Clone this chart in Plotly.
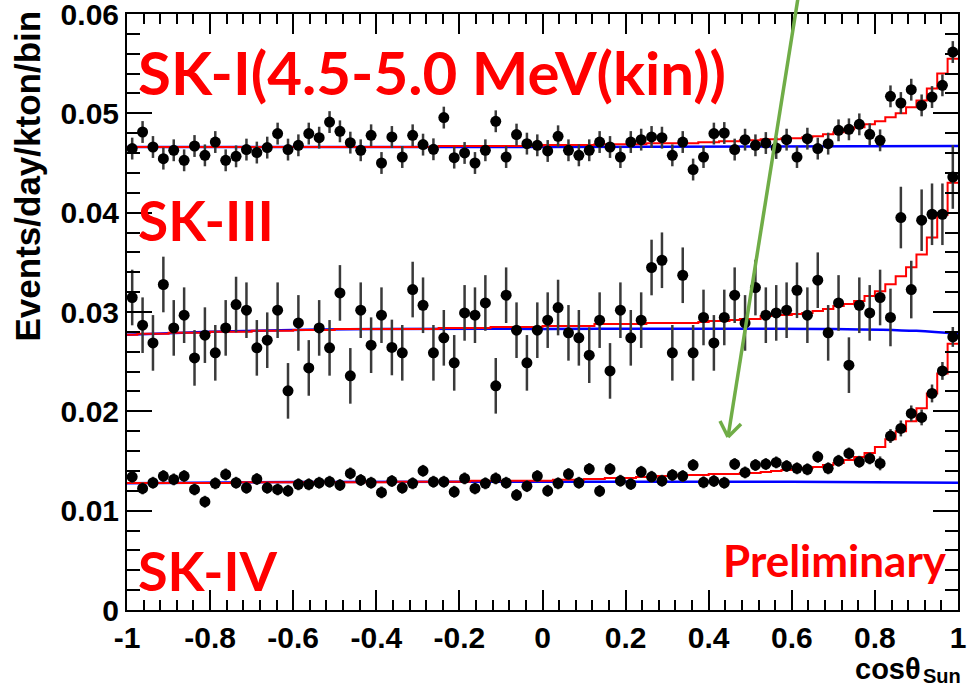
import numpy as np
import plotly.graph_objects as go

# ---------------- data ----------------
bin_edges = np.linspace(-1.0, 1.0, 81)
bin_centers = 0.5 * (bin_edges[:-1] + bin_edges[1:])

sk1_vals = [0.04645, 0.04812, 0.04661, 0.04544, 0.04628, 0.04527, 0.04671, 0.04577, 0.04711, 0.04527,
            0.04567, 0.04635, 0.04605, 0.04655, 0.04796, 0.04635, 0.04678, 0.04796, 0.04755, 0.04912,
            0.04819, 0.04705, 0.04628, 0.04779, 0.04500, 0.04762, 0.04560, 0.04779, 0.04685, 0.04638,
            0.04957, 0.04554, 0.04601, 0.04500, 0.04628, 0.04920, 0.04560, 0.04786, 0.04695, 0.04678,
            0.04621, 0.04769, 0.04628, 0.04577, 0.04628, 0.04711, 0.04661, 0.04560, 0.04711, 0.04735,
            0.04762, 0.04755, 0.04577, 0.04711, 0.04434, 0.04560, 0.04796, 0.04802, 0.04635, 0.04735,
            0.04678, 0.04701, 0.04651, 0.04735, 0.04560, 0.04745, 0.04645, 0.04695, 0.04829, 0.04839,
            0.04889, 0.04789, 0.04728, 0.05171, 0.05104, 0.05238, 0.05080, 0.05164, 0.05282, 0.05617]
sk1_err = 0.0011
sk1_mc = [0.0466] * 30 + [0.0467] * 10 + [0.0468] * 5 + [0.0469] * 5 + [0.0470] * 5 + \
         [0.0471, 0.0471, 0.0472, 0.0472, 0.0473,
          0.0473, 0.0474, 0.0474, 0.0475, 0.0475, 0.0476, 0.0477, 0.0479, 0.0481, 0.0484,
          0.0486, 0.0489, 0.0492, 0.0496, 0.0500, 0.0506, 0.0513, 0.0525, 0.0540, 0.0555]
sk1_flat_x = [-1.0, 0.0, 1.0]
sk1_flat_y = [0.0466, 0.0466, 0.0467]

sk3_vals = [0.03146, 0.02867, 0.02689, 0.03277, 0.02840, 0.02968, 0.02538, 0.02767, 0.02589, 0.02840,
            0.03075, 0.03018, 0.02639, 0.02716, 0.03018, 0.02206, 0.02890, 0.02437, 0.02840, 0.02639,
            0.03192, 0.02357, 0.03018, 0.02666, 0.02968, 0.02643, 0.02589, 0.03226, 0.03068, 0.02589,
            0.02740, 0.02488, 0.02991, 0.02968, 0.03091, 0.02257, 0.03169, 0.02817, 0.02488, 0.02817,
            0.02918, 0.03045, 0.02790, 0.02740, 0.02565, 0.02918, 0.02407, 0.03018, 0.02740, 0.02918,
            0.03448, 0.03521, 0.02589, 0.03370, 0.02589, 0.02945, 0.02689, 0.02945, 0.03169, 0.02890,
            0.03246, 0.02968, 0.02991, 0.03018, 0.03219, 0.02968, 0.03320, 0.02790, 0.03091, 0.02465,
            0.03068, 0.02991, 0.03146, 0.02945, 0.03951, 0.03226, 0.03924, 0.03984, 0.03984, 0.04359]
sk3_err = [0.0028] * 73 + [0.0029, 0.0031, 0.0029, 0.0031, 0.0031, 0.0031, 0.0032]
sk3_mc = [0.0277, 0.0278, 0.0278, 0.0278, 0.0279, 0.0279, 0.0279, 0.0279, 0.0280, 0.0280,
          0.0280, 0.0280, 0.0281, 0.0281, 0.0281, 0.0281, 0.0282, 0.0282, 0.0282, 0.0282] + \
         [0.0283] * 10 + [0.0284] * 5 + [0.0285] * 5 + [0.0286] * 5 + [0.0288] * 5 + [0.0289] * 5 + \
         [0.0290, 0.0291, 0.0291, 0.0292, 0.0293,
          0.0293, 0.0296, 0.0297, 0.0297, 0.0298, 0.0299, 0.0301, 0.0303, 0.0306, 0.0308,
          0.0311, 0.0316, 0.0321, 0.0328, 0.0336, 0.0345, 0.0358, 0.0375, 0.0398, 0.0430]
sk3_flat_x = [-1.0, -0.8, -0.6, -0.4, 0.0, 0.4, 0.7, 0.9, 1.0]
sk3_flat_y = [0.02770, 0.02800, 0.02820, 0.02830, 0.02830, 0.02832, 0.02830, 0.02810, 0.02780]

sk4_vals = [0.01341, 0.01224, 0.01281, 0.01348, 0.01315, 0.01348, 0.01214, 0.01090, 0.01275, 0.01365,
            0.01281, 0.01230, 0.01318, 0.01230, 0.01214, 0.01200, 0.01265, 0.01265, 0.01281, 0.01291,
            0.01258, 0.01375, 0.01308, 0.01281, 0.01184, 0.01298, 0.01230, 0.01275, 0.01401, 0.01291,
            0.01291, 0.01190, 0.01325, 0.01224, 0.01275, 0.01325, 0.01281, 0.01157, 0.01247, 0.01348,
            0.01200, 0.01275, 0.01368, 0.01281, 0.01419, 0.01197, 0.01419, 0.01301, 0.01268, 0.01391,
            0.01341, 0.01301, 0.01358, 0.01348, 0.01459, 0.01285, 0.01298, 0.01281, 0.01469, 0.01385,
            0.01459, 0.01469, 0.01486, 0.01449, 0.01426, 0.01416, 0.01542, 0.01426, 0.01502, 0.01576,
            0.01492, 0.01526, 0.01476, 0.01751, 0.01828, 0.01979, 0.01939, 0.02180, 0.02407, 0.02749]
sk4_err = [0.0006] * 72 + [0.0007, 0.0007, 0.0008, 0.0008, 0.0008, 0.0009, 0.0009, 0.0010]
sk4_mc = [0.01278] * 10 + [0.01285] * 15 + [0.0129] * 8 + [0.0130] * 7 + \
         [0.0130, 0.0131, 0.0131, 0.0131, 0.0132, 0.0132, 0.0133, 0.0133, 0.0133, 0.0134,
          0.0134, 0.0135, 0.0135, 0.0136, 0.0136, 0.0136, 0.0137, 0.0137, 0.0137, 0.0138,
          0.0138, 0.0139, 0.0140, 0.0141, 0.0142, 0.0143, 0.0144, 0.0146, 0.0148, 0.0151,
          0.0154, 0.0158, 0.0164, 0.0172, 0.0180, 0.0190, 0.0203, 0.0218, 0.0238, 0.0268]
sk4_flat_x = [-1.0, -0.6, 0.0, 0.6, 1.0]
sk4_flat_y = [0.01275, 0.01288, 0.01290, 0.01290, 0.01280]

x_tick_vals = [-1, -0.8, -0.6, -0.4, -0.2, 0, 0.2, 0.4, 0.6, 0.8, 1]
x_tick_text = ["-1", "-0.8", "-0.6", "-0.4", "-0.2", "0", "0.2", "0.4", "0.6", "0.8", "1"]
y_tick_vals = [0, 0.01, 0.02, 0.03, 0.04, 0.05, 0.06]
y_tick_text = ["0", "0.01", "0.02", "0.03", "0.04", "0.05", "0.06"]

# ---------------- figure ----------------
fig = go.Figure()

for flat_x, flat_y in [(sk1_flat_x, sk1_flat_y), (sk3_flat_x, sk3_flat_y), (sk4_flat_x, sk4_flat_y)]:
    fig.add_trace(go.Scatter(x=flat_x, y=flat_y, mode="lines",
                             line=dict(color="#0000FF", width=2.5, shape="spline"),
                             hoverinfo="skip"))

for mc in [sk1_mc, sk3_mc, sk4_mc]:
    fig.add_trace(go.Scatter(x=list(bin_edges), y=list(mc) + [mc[-1]], mode="lines",
                             line=dict(color="#FF0000", width=2, shape="hv"),
                             hoverinfo="skip"))

for vals, err in [(sk1_vals, sk1_err), (sk3_vals, sk3_err), (sk4_vals, sk4_err)]:
    if isinstance(err, list):
        ey = dict(type="data", array=err, visible=True, color="#3a3a3a", thickness=2.5, width=0)
    else:
        ey = dict(type="constant", value=err, visible=True, color="#3a3a3a", thickness=2.5, width=0)
    fig.add_trace(go.Scatter(x=bin_centers, y=vals, mode="markers",
                             marker=dict(color="black", size=11),
                             error_y=ey))

L, R, T, B = 127, 20, 14, 79
W, H = 978, 689
PW, PH = W - L - R, H - T - B


def px(x):
    return (x - L) / PW


def py(y):
    return (H - B - y) / PH


tick_font = dict(family="Liberation Sans, Arial", size=30, color="black", weight="bold")

fig.update_layout(
    width=W, height=H, autosize=False,
    margin=dict(l=L, r=R, t=T, b=B),
    plot_bgcolor="white", paper_bgcolor="white",
    showlegend=False,
    xaxis=dict(range=[-1, 1], tickvals=x_tick_vals, ticktext=x_tick_text, automargin=False,
               ticks="inside", ticklen=20, tickwidth=2, tickcolor="black",
               showline=True, linewidth=2, linecolor="black", mirror="allticks",
               showgrid=False, zeroline=False, tickfont=tick_font, ticklabeloverflow="allow",
               minor=dict(dtick=0.04, ticklen=10, tickwidth=1.5, ticks="inside", tickcolor="black", showgrid=False)),
    yaxis=dict(range=[0, 0.0600001], tickvals=y_tick_vals, ticktext=y_tick_text, automargin=False,
               ticks="inside", ticklen=25, tickwidth=2, tickcolor="black",
               showline=True, linewidth=2, linecolor="black", mirror="allticks",
               showgrid=False, zeroline=False, tickfont=tick_font, ticklabeloverflow="allow",
               minor=dict(dtick=0.002, ticklen=13, tickwidth=1.5, ticks="inside", tickcolor="black", showgrid=False)),
)

red_font = dict(family="Lato, Calibri, sans-serif", color="#FF0000", weight="bold")
fig.add_annotation(text="SK-I(4.5-5.0 MeV(kin))", xref="paper", yref="paper", x=px(136), y=py(72),
                   xanchor="left", yanchor="middle", showarrow=False, font=dict(size=60, **red_font))
fig.add_annotation(text="SK-III", xref="paper", yref="paper", x=px(136), y=py(220),
                   xanchor="left", yanchor="middle", showarrow=False, font=dict(size=55, **red_font))
fig.add_annotation(text="SK-IV", xref="paper", yref="paper", x=px(136), y=py(570),
                   xanchor="left", yanchor="middle", showarrow=False, font=dict(size=54, **red_font))
fig.add_annotation(text="Preliminary", xref="paper", yref="paper", x=px(949), y=py(560),
                   xanchor="right", yanchor="middle", showarrow=False, font=dict(size=44, **red_font))

fig.add_annotation(text="Events/day/kton/bin", xref="paper", yref="paper", x=px(27), y=py(9),
                   xanchor="center", yanchor="top", textangle=-90, showarrow=False,
                   font=dict(family="Liberation Sans, Arial", size=35, color="black", weight="bold"))
title_font = dict(family="Liberation Sans, Arial", color="black", weight="bold")
fig.add_annotation(text="cosθ", xref="paper", yref="paper", x=px(923), y=py(687),
                   xanchor="right", yanchor="bottom", showarrow=False,
                   font=dict(size=29, **title_font))
fig.add_annotation(text="Sun", xref="paper", yref="paper", x=px(921), y=py(689),
                   xanchor="left", yanchor="bottom", showarrow=False,
                   font=dict(size=20, **title_font))

# green arrow
green = "#70AD47"
tip = (728, 437)
tail = (798, -2)
for (x0, y0), (x1, y1) in [(tail, tip), (tip, (741, 424)), (tip, (720, 421))]:
    fig.add_shape(type="line", xref="paper", yref="paper", x0=px(x0), y0=py(y0), x1=px(x1), y1=py(y1),
                  line=dict(color=green, width=3.5))

fig.write_html("out.html")
